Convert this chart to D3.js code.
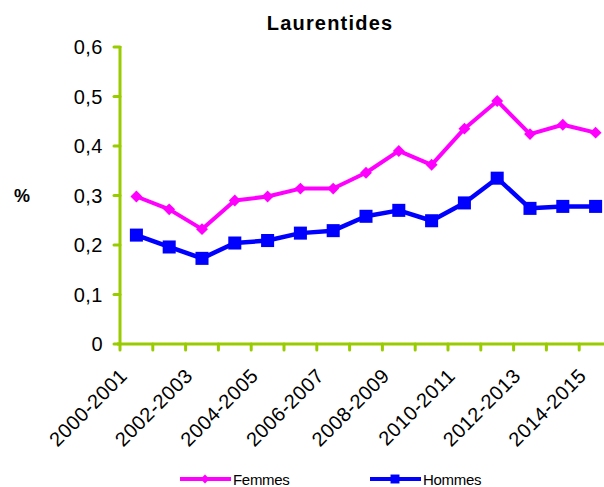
<!DOCTYPE html>
<html lang="fr">
<head>
    <meta charset="UTF-8">
    <title>Laurentides</title>
    <script src="https://cdn.jsdelivr.net/npm/d3@7"></script>
    <style>
        html, body {
            margin: 0;
            padding: 0;
            background: #fff;
            overflow: hidden;
        }
        text {
            font-family: Arial, "Liberation Sans", sans-serif;
            fill: #000;
        }
    </style>
</head>
<body>
</body>
<script>
    const categories = ['2000-2001', '2001-2002', '2002-2003', '2003-2004', '2004-2005',
        '2005-2006', '2006-2007', '2007-2008', '2008-2009', '2009-2010', '2010-2011',
        '2011-2012', '2012-2013', '2013-2014', '2014-2015'];
    const femmes = [0.298, 0.272, 0.232, 0.290, 0.298, 0.314, 0.314, 0.346, 0.390,
        0.362, 0.435, 0.491, 0.424, 0.443, 0.427];
    const hommes = [0.220, 0.196, 0.173, 0.204, 0.209, 0.224, 0.229, 0.258, 0.270,
        0.249, 0.285, 0.335, 0.274, 0.278, 0.278];
    const yTicks = [0, 0.1, 0.2, 0.3, 0.4, 0.5, 0.6];

    const width = 604, height = 487;
    const green = '#99cc00';

    let svg = d3.select('body').append('svg')
        .attr('width', width)
        .attr('height', height);

    let x = d3.scaleBand().domain(categories).range([120, 612]);
    let y = d3.scaleLinear().domain([0, 0.6]).range([344, 47]);

    // titre
    svg.append('text')
        .attr('x', 330).attr('y', 30)
        .attr('text-anchor', 'middle')
        .style('font-size', '20px')
        .style('font-weight', 'bold')
        .style('letter-spacing', '1.2px')
        .text('Laurentides');

    svg.append('text')
        .attr('x', 22).attr('y', 202)
        .attr('text-anchor', 'middle')
        .style('font-size', '18px')
        .style('font-weight', 'bold')
        .text('%');

    // axe y
    let axes = svg.append('g');
    axes.append('line')
        .attr('x1', x.range()[0]).attr('x2', x.range()[0])
        .attr('y1', y(0.6) - 1).attr('y2', y(0))
        .attr('stroke', green).attr('stroke-width', 3);
    axes.selectAll('.ytick')
        .data(yTicks).enter()
        .append('line')
        .attr('x1', 114).attr('x2', 120)
        .attr('y1', d => y(d)).attr('y2', d => y(d))
        .attr('stroke', green).attr('stroke-width', 3)
        .attr('stroke-linecap', 'round');
    axes.selectAll('.ylabel')
        .data(yTicks).enter()
        .append('text')
        .attr('x', 103)
        .attr('y', d => y(d) + 7)
        .attr('text-anchor', 'end')
        .style('font-size', '20px')
        .style('letter-spacing', '0.5px')
        .text(d => d === 0 ? '0' : d3.format('.1f')(d).replace('.', ','));

    // axe x
    axes.append('line')
        .attr('x1', 117).attr('x2', width)
        .attr('y1', y(0)).attr('y2', y(0))
        .attr('stroke', green).attr('stroke-width', 3);
    axes.selectAll('.xtick')
        .data(categories).enter()
        .append('line')
        .attr('x1', d => x(d)).attr('x2', d => x(d))
        .attr('y1', y(0)).attr('y2', y(0) + 6)
        .attr('stroke', green).attr('stroke-width', 3)
        .attr('stroke-linecap', 'round');
    axes.selectAll('.xlabel')
        .data(categories.filter((d, i) => i % 2 === 0)).enter()
        .append('text')
        .attr('transform', d => `translate(${x(d) + x.bandwidth() / 2 - 8},377) rotate(-45)`)
        .attr('text-anchor', 'end')
        .style('font-size', '20px')
        .style('letter-spacing', '0.5px')
        .text(d => d);

    let line = d3.line()
        .x((d, i) => x(categories[i]) + x.bandwidth() / 2)
        .y(d => y(d));

    let diamond = d3.symbol().type(d3.symbolDiamond2).size(90);
    let square = d3.symbol().type(d3.symbolSquare).size(170);

    function drawSeries(values, color, symbol, lw) {
        let g = svg.append('g');
        g.append('path')
            .datum(values)
            .attr('d', line)
            .attr('fill', 'none')
            .attr('stroke', color)
            .attr('stroke-width', lw)
            .attr('stroke-linejoin', 'round');
        g.selectAll('.pt')
            .data(values).enter()
            .append('path')
            .attr('d', symbol)
            .attr('transform', (d, i) => `translate(${x(categories[i]) + x.bandwidth() / 2},${y(d)})`)
            .attr('fill', color);
    }

    drawSeries(femmes, '#ff00ff', diamond, 4);
    drawSeries(hommes, '#0000ff', square, 4.5);

    // légende
    let legend = [
        {name: 'Femmes', color: '#ff00ff', symbol: d3.symbol().type(d3.symbolDiamond2).size(50), x0: 180},
        {name: 'Hommes', color: '#0000ff', symbol: d3.symbol().type(d3.symbolSquare).size(80), x0: 370}
    ];
    let lg = svg.selectAll('.legend')
        .data(legend).enter()
        .append('g')
        .attr('transform', d => `translate(${d.x0},479)`);
    lg.append('line')
        .attr('x1', 0).attr('x2', 51)
        .attr('stroke', d => d.color).attr('stroke-width', 4);
    lg.append('path')
        .attr('d', d => d.symbol())
        .attr('transform', 'translate(25,0)')
        .attr('fill', d => d.color);
    lg.append('text')
        .attr('x', 53).attr('y', 6)
        .style('font-size', '15px')
        .style('letter-spacing', '-0.3px')
        .text(d => d.name);
</script>
</html>
